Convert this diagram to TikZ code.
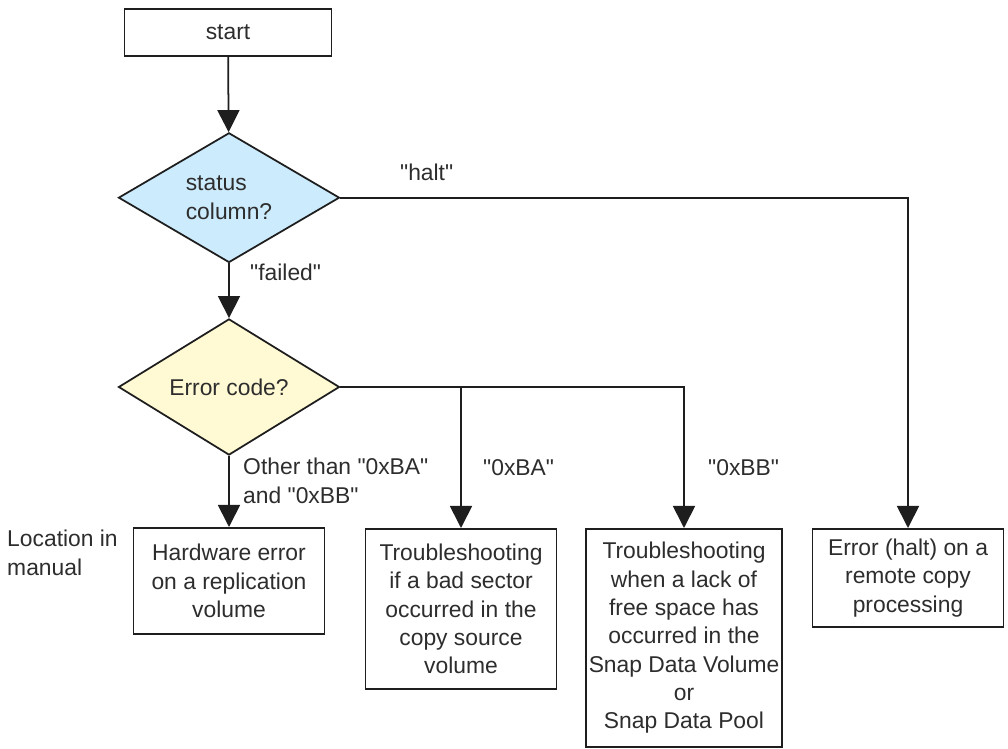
\documentclass[tikz,border=0pt]{standalone}
\usepackage{fontspec}
\setmainfont{Liberation Sans}
\usepackage{tikz}
\usetikzlibrary{positioning,shapes.geometric,arrows.meta}
\definecolor{FlowInk}{RGB}{45,45,45}
\definecolor{FlowLine}{RGB}{30,30,30}
\definecolor{FlowBlue}{RGB}{204,235,252}
\definecolor{FlowYellow}{RGB}{255,250,212}
\newcommand{\flowfont}{\fontsize{19.5}{24.2}\selectfont}
\newcommand{\qt}[1]{\textquotedbl#1\textquotedbl}

\begin{document}
\begin{tikzpicture}[
  font=\flowfont,
  box/.style={draw=FlowLine,line width=1.5pt,fill=white,minimum width=5.73cm,text=FlowInk,align=center,inner sep=0pt},
  decide/.style={diamond,draw=FlowLine,line width=1.5pt,inner sep=0pt,text=FlowInk,minimum width=6.63cm,minimum height=2.84cm},
  lbl/.style={text=FlowInk,align=left,inner sep=0pt,anchor=west},
  arr/.style={-{Triangle[width=0.66cm,length=0.66cm]},line width=1.5pt,draw=FlowLine}]
  \useasboundingbox (0,0) rectangle (30.24,-22.47);
  \node[box,minimum width=6.21cm,minimum height=1.41cm] (start) at (6.84,-0.98) {start};
  \node[decide,fill=FlowBlue,align=left] (status) at (6.87,-5.93) {status\\column?};
  \node[decide,fill=FlowYellow] (errcode) at (6.87,-11.61) {Error code?};
  \node[box,anchor=north,minimum height=3.18cm] (hwerr) at (6.87,-15.81) {Hardware error\\on a replication\\volume};
  \node[box,anchor=north,minimum height=4.8cm] (badsect) at (13.83,-15.84) {Troubleshooting\\if a bad sector\\occurred in the\\copy source\\volume};
  \node[box,anchor=north,minimum width=5.9cm,minimum height=6.54cm] (nospace) at (20.52,-15.84) {Troubleshooting\\when a lack of\\free space has\\occurred in the\\Snap Data Volume\\or\\Snap Data Pool};
  \node[box,anchor=north,minimum height=2.94cm] (halterr) at (27.24,-15.84) {Error (halt) on a\\remote copy\\processing};
  % branch labels
  \node[lbl,anchor=center] (halt) at (12.8,-5.16) {\qt{halt}};
  \node[lbl] (failed) at (7.5,-8.16) {\qt{failed}};
  \node[lbl] (other) at (7.29,-14.43) {Other than \qt{0xBA}\\and \qt{0xBB}};
  \node[lbl] (ba) at (14.49,-14.04) {\qt{0xBA}};
  \node[lbl] (bb) at (21.24,-14.04) {\qt{0xBB}};
  \node[lbl] (location) at (0.21,-16.59) {Location in\\manual};
  \coordinate (split) at (errcode.east -| badsect.north);
  \draw[arr] (start)--(status);
  \draw[arr] (status)--(errcode);
  \draw[arr] (status.east)-|(halterr.north);
  \draw[arr] (errcode)--(hwerr);
  \draw[arr] (errcode.east)-|(nospace.north);
  \draw[arr] (split)--(badsect.north);
\end{tikzpicture}
\end{document}
